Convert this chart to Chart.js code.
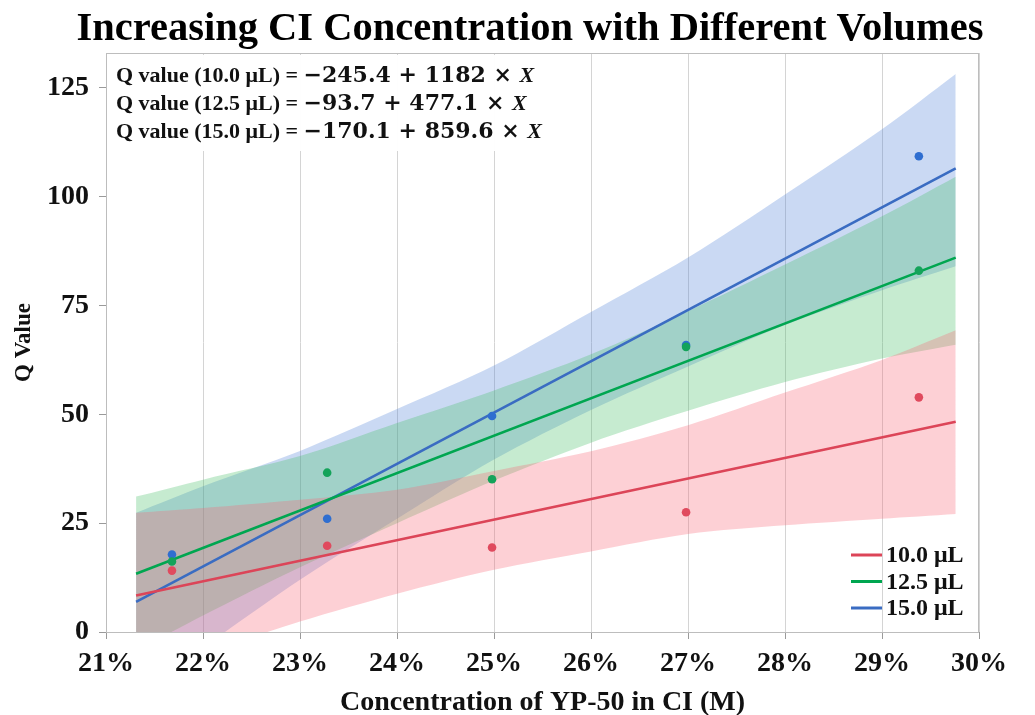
<!DOCTYPE html>
<html>
<head>
<meta charset="utf-8">
<script src="https://cdn.jsdelivr.net/npm/chart.js@4.4.1/dist/chart.umd.min.js"></script>
<style>
  html, body { margin: 0; padding: 0; background: #ffffff; }
  #wrap { width: 1035px; height: 715px; }
</style>
</head>
<body>
<div id="wrap"><canvas id="c" width="1035" height="715"></canvas></div>
<script>
// ---------- data ----------
const chartTitle = 'Increasing CI Concentration with Different Volumes';
const seriesNames = ['10.0 μL', '12.5 μL', '15.0 μL'];
const concentration = [21.68, 23.28, 24.98, 26.98, 29.38]; // % YP-50 in CI
const q10  = [14.1, 19.8, 19.4, 27.5, 53.9];
const q125 = [16.2, 36.6, 35.1, 65.5, 83.0];
const q15  = [17.8, 26.0, 49.6, 65.9, 109.3];

const fitX   = [21.31, 29.76];
const fit10  = [8.4, 48.3];
const fit125 = [13.4, 86.0];
const fit15  = [6.9, 106.5];

const bandX        = [21.31, 22, 23, 24, 25, 26, 27, 28, 29, 29.76];
const band10Upper  = [27.4, 28.5, 30.4, 32.7, 37.0, 41.5, 47.5, 55.0, 62.5, 69.3];
const band10Lower  = [-10.6, -5.0, 2.4, 8.8, 14.3, 18.5, 22.5, 24.5, 26.0, 27.1];
const band125Upper = [31.1, 35.0, 40.4, 48.0, 55.5, 63.8, 73.7, 84.4, 95.5, 104.6];
const band125Lower = [-4.3, 3.8, 14.9, 25.0, 34.8, 43.5, 50.8, 57.4, 62.8, 66.0];
const band15Upper  = [27.4, 33.5, 41.6, 51.2, 61.2, 73.5, 86.0, 100.5, 115.5, 128.2];
const band15Lower  = [-13.6, -3.5, 12.0, 26.0, 39.6, 51.0, 61.0, 70.5, 78.5, 84.0];

const xTickValues = [21, 22, 23, 24, 25, 26, 27, 28, 29, 30];
const yTickValues = [0, 25, 50, 75, 100, 125];

const equations = [
  ['Q value (10.0 μL) = ', '−245.4 + 1182 × '],
  ['Q value (12.5 μL) = ', '−93.7 + 477.1 × '],
  ['Q value (15.0 μL) = ', '−170.1 + 859.6 × ']
];

// ---------- styles ----------
const lineColors  = ['#dc4558', '#00a650', '#3a6cc2'];
const pointColors = ['#e04a5e', '#14a35a', '#2f6ed0'];
const bandColors  = ['rgba(248,98,115,0.30)', 'rgba(65,188,98,0.30)', 'rgba(78,128,215,0.30)'];
const SERIF = '"Liberation Serif", "Times New Roman", serif';

const pts = (xs, ys) => xs.map((x, i) => ({ x: x, y: ys[i] }));

const bands = [[band10Upper, band10Lower], [band125Upper, band125Lower], [band15Upper, band15Lower]];
const fits = [fit10, fit125, fit15];
const scat = [q10, q125, q15];

const datasets = [];
bands.forEach((b, i) => {
  datasets.push({
    label: 'band-up-' + i, data: pts(bandX, b[0]), fill: '+1',
    backgroundColor: bandColors[i], borderWidth: 0, pointRadius: 0, order: 3, tension: 0.3
  });
  datasets.push({
    label: 'band-lo-' + i, data: pts(bandX, b[1]), fill: false,
    borderWidth: 0, pointRadius: 0, order: 3, tension: 0.3
  });
});
fits.forEach((f, i) => {
  datasets.push({
    label: seriesNames[i], data: pts(fitX, f), borderColor: lineColors[i],
    borderWidth: 2.6, pointRadius: 0, fill: false, order: 2
  });
});
scat.forEach((s, i) => {
  datasets.push({
    label: 'pts-' + i, data: pts(concentration, s), showLine: false,
    pointRadius: 4.3, pointBackgroundColor: pointColors[i], pointBorderWidth: 0, order: 1
  });
});

const decor = {
  id: 'decor',
  afterDraw(chart) {
    const { ctx, chartArea: a } = chart;
    ctx.save();
    // title
    ctx.fillStyle = '#000';
    ctx.textAlign = 'center';
    ctx.textBaseline = 'middle';
    ctx.font = 'bold 40.5px ' + SERIF;
    ctx.fillText(chartTitle, 530, 30);
    ctx.textAlign = 'left';
    // frame
    ctx.strokeStyle = '#bdbdbd';
    ctx.lineWidth = 1;
    ctx.strokeRect(a.left + 0.5, a.top + 0.5, a.right - a.left - 1, a.bottom - a.top);
    // equation box
    ctx.fillStyle = 'rgba(255,255,255,0.97)';
    ctx.fillRect(a.left + 2, a.top + 2, 452, 96);
    ctx.fillStyle = '#111';
    equations.forEach((eq, i) => {
      const y = a.top + 23 + i * 28;
      let x = a.left + 10;
      ctx.font = 'bold 22px ' + SERIF;
      ctx.fillText(eq[0], x, y);
      x += ctx.measureText(eq[0]).width;
      ctx.font = 'bold 22px "DejaVu Serif", serif';
      ctx.fillText(eq[1], x, y);
      x += ctx.measureText(eq[1]).width;
      ctx.font = 'italic bold 22px ' + SERIF;
      ctx.fillText('X', x, y);
    });
    // legend
    ctx.font = 'bold 24px ' + SERIF;
    seriesNames.forEach((n, i) => {
      const y = a.bottom - 77 + i * 26.5;
      ctx.strokeStyle = lineColors[i];
      ctx.lineWidth = 3;
      ctx.beginPath();
      ctx.moveTo(a.right - 128, y);
      ctx.lineTo(a.right - 97, y);
      ctx.stroke();
      ctx.fillStyle = '#111';
      ctx.fillText(n, a.right - 93, y + 1);
    });
    ctx.restore();
  }
};

new Chart(document.getElementById('c'), {
  type: 'line',
  data: { datasets: datasets },
  plugins: [decor],
  options: {
    responsive: false,
    animation: false,
    layout: { padding: { left: 0, right: 56, top: 53, bottom: 0 } },
    plugins: {
      legend: { display: false },
      tooltip: { enabled: false },
      title: { display: false }
    },
    scales: {
      x: {
        type: 'linear', min: 21, max: 30,
        afterBuildTicks: (s) => { s.ticks = xTickValues.map(v => ({ value: v })); },
        afterFit: (s) => { s.height = 83; },
        grid: { color: '#d4d4d4', drawTicks: true, tickLength: 7, tickColor: '#9a9a9a' },
        border: { color: '#9a9a9a' },
        ticks: {
          color: '#111', padding: 8,
          font: { family: SERIF, size: 28, weight: 'bold' },
          callback: (v) => v + '%'
        },
        title: {
          display: true, text: 'Concentration of YP-50 in CI (M)', color: '#111',
          font: { family: SERIF, size: 28, weight: 'bold', lineHeight: 0.9 },
          padding: { top: 0, bottom: 0 }
        }
      },
      y: {
        type: 'linear', min: 0, max: 133,
        afterBuildTicks: (s) => { s.ticks = yTickValues.map(v => ({ value: v })); },
        afterFit: (s) => { s.width = 106; },
        grid: { drawOnChartArea: false, drawTicks: true, tickLength: 7, tickColor: '#9a9a9a' },
        border: { color: '#9a9a9a' },
        ticks: {
          color: '#111', padding: 10,
          font: { family: SERIF, size: 28, weight: 'bold' }
        },
        title: {
          display: true, text: 'Q Value', color: '#111',
          font: { family: SERIF, size: 23, weight: 'bold' },
          padding: { top: 10, bottom: 0 }
        }
      }
    }
  }
});
</script>
</body>
</html>
